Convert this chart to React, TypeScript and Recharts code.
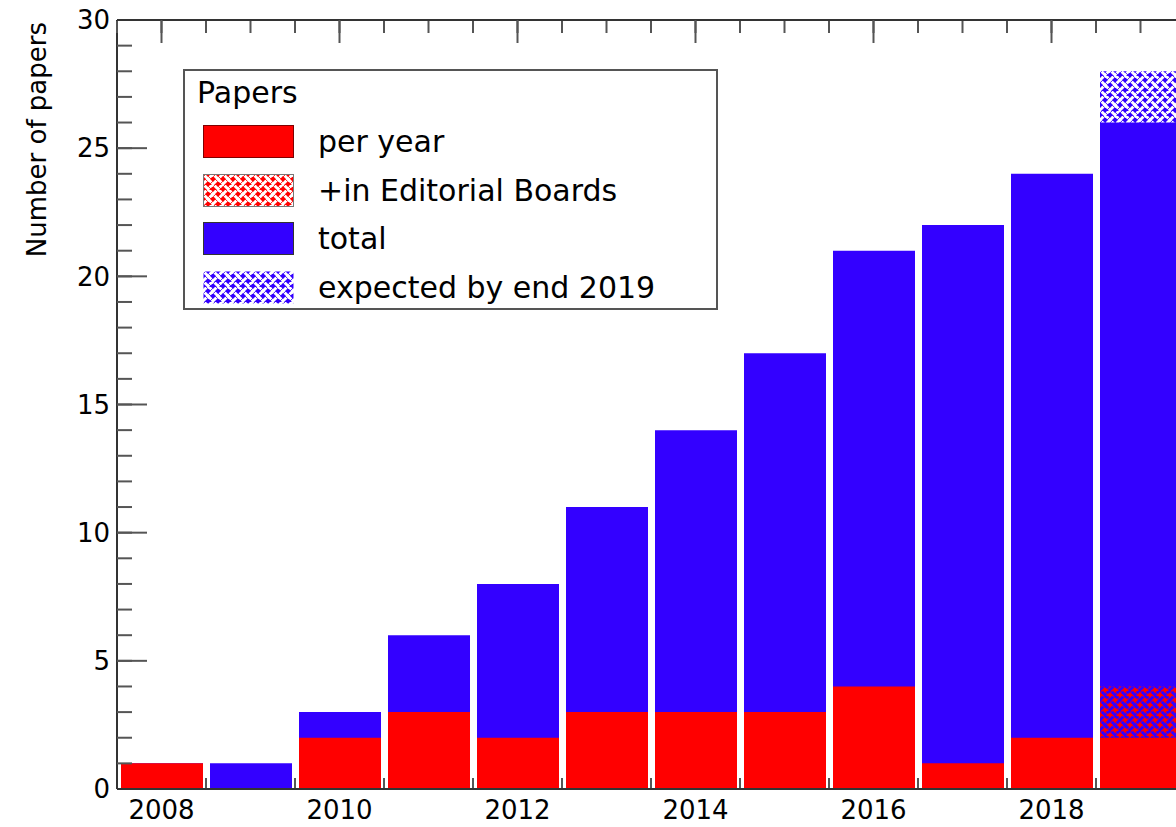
import React from 'react';
import { BarChart, Bar, XAxis, YAxis, Legend } from 'recharts';

const years = ['2008', '2009', '2010', '2011', '2012', '2013', '2014', '2015', '2016', '2017', '2018', '2019'];
const perYear = [1, 0, 2, 3, 2, 3, 3, 3, 4, 1, 2, 2];
const inEditorialBoards = [null, null, null, null, null, null, null, null, null, null, null, 4];
const total = [1, 1, 3, 6, 8, 11, 14, 17, 21, 22, 24, 26];
const expectedByEnd = [null, null, null, null, null, null, null, null, null, null, null, 28];

const yTicks = [0, 5, 10, 15, 20, 25, 30];
const yMinorTicks = [0, 1, 2, 3, 4, 5, 6, 7, 8, 9, 10, 11, 12, 13, 14, 15, 16, 17, 18, 19, 20, 21, 22, 23, 24, 25, 26, 27, 28, 29, 30];
const xLabelTicks = [2008, 2010, 2012, 2014, 2016, 2018];
const xMinorTicks = [2007.5, 2008, 2008.5, 2009, 2009.5, 2010, 2010.5, 2011, 2011.5, 2012, 2012.5, 2013, 2013.5, 2014, 2014.5, 2015, 2015.5, 2016, 2016.5, 2017, 2017.5, 2018, 2018.5, 2019, 2019.5];
// bottom ticks that show between the bars
const xGapTicks = [2008.5, 2009.5, 2010.5, 2011.5, 2012.5, 2013.5, 2014.5, 2015.5, 2016.5, 2017.5, 2018.5];

const data = years.map((year, i) => ({
  year,
  yearNum: Number(year),
  perYear: perYear[i],
  editorial: inEditorialBoards[i],
  total: total[i],
  expected: expectedByEnd[i],
}));

const RED = '#ff0000';
const BLUE = '#3300ff';
const FONT = '"DejaVu Sans", sans-serif';

const legendItems = [
  { label: 'per year', fill: RED, stroke: '#800000' },
  { label: '+in Editorial Boards', fill: 'url(#redWeave)', stroke: '#777' },
  { label: 'total', fill: BLUE, stroke: '#333' },
  { label: 'expected by end 2019', fill: 'url(#blueWeave)', stroke: 'none' },
];

const xDomain = [2007.5, 2019.5];
const axisLine = { stroke: '#333', strokeWidth: 2 };
const tickLine = { stroke: '#555', strokeWidth: 2 };
const tickFont = { fill: '#000', fontSize: 26, fontFamily: FONT };
const NoLabel = () => null;

// basket-weave tile (20x20): strips are cut out of the fill, short edges mark the over/under crossings
function weaveStrips() {
  let d = '';
  for (const c of [0, 10, 20, 30, 40]) d += `M${c + 5},-5 L-5,${c + 5} `;
  for (const m of [-20, -10, 0, 10, 20]) d += `M${m - 5},-5 L${m + 25},25 `;
  return d;
}
function weaveEdges() {
  let d = '';
  const pts = [0, 5, 10, 15, 20];
  for (const x of pts) {
    for (const y of pts) {
      if ((x + y) % 10 !== 0) continue;
      const slashOver = (x / 5) % 2 === 0;
      const o = 1.45;
      const h = 1.4;
      for (const s of [-1, 1]) {
        if (slashOver) {
          const cx = x + s * o;
          const cy = y + s * o;
          d += `M${cx - h},${cy + h} L${cx + h},${cy - h} `;
        } else {
          const cx = x + s * o;
          const cy = y - s * o;
          d += `M${cx - h},${cy - h} L${cx + h},${cy + h} `;
        }
      }
    }
  }
  return d;
}

function PapersLegend() {
  return (
    <div
      style={{
        position: 'relative',
        width: 535,
        height: 241,
        boxSizing: 'border-box',
        border: '2px solid #555',
        background: '#fff',
        fontFamily: FONT,
        fontSize: 30,
        color: '#000',
      }}
    >
      <div style={{ position: 'absolute', left: 12, top: 4, lineHeight: '35px' }}>Papers</div>
      {legendItems.map((item, i) => (
        <div
          key={item.label}
          style={{ position: 'absolute', left: 18, top: 54 + i * 48.5, height: 33, display: 'flex', alignItems: 'center' }}
        >
          <svg width={91} height={33} style={{ display: 'block' }}>
            <rect x={0.5} y={0.5} width={90} height={32} fill={item.fill} stroke={item.stroke} strokeWidth={1} />
          </svg>
          <span style={{ marginLeft: 24, lineHeight: '35px', whiteSpace: 'nowrap' }}>{item.label}</span>
        </div>
      ))}
    </div>
  );
}

function AxisTitle(props: any) {
  const vb = props.viewBox || { x: 0, y: 20 };
  const cx = vb.x + 37;
  const top = vb.y + 2;
  return (
    <text
      x={cx}
      y={top}
      transform={`rotate(-90, ${cx}, ${top})`}
      textAnchor="end"
      dominantBaseline="central"
      fontSize={26}
      fontFamily={FONT}
      fill="#000"
    >
      Number of papers
    </text>
  );
}

export default function App() {
  const strips = weaveStrips();
  const edges = weaveEdges();
  return (
    <div style={{ position: 'fixed', left: 0, top: 0, width: 1176, height: 827, overflow: 'hidden', background: '#fff' }}>
      <BarChart
        width={1200}
        height={827}
        data={data}
        margin={{ top: 20, right: 15, left: 0, bottom: 0 }}
        barSize={82}
      >
        <defs>
          <mask id="weaveHoles" maskUnits="userSpaceOnUse" x="0" y="0" width="20" height="20">
            <rect x="0" y="0" width="20" height="20" fill="#fff" />
            <path d={strips} stroke="#000" strokeWidth="2.9" fill="none" />
            <path d={edges} stroke="#fff" strokeWidth="0.9" fill="none" />
          </mask>
          <pattern id="redWeave" width="20" height="20" patternUnits="userSpaceOnUse">
            <rect x="0" y="0" width="20" height="20" fill={RED} mask="url(#weaveHoles)" />
          </pattern>
          <pattern id="blueWeave" width="20" height="20" patternUnits="userSpaceOnUse">
            <rect x="0" y="0" width="20" height="20" fill={BLUE} mask="url(#weaveHoles)" />
          </pattern>
        </defs>

        <YAxis
          type="number"
          domain={[0, 30]}
          ticks={yTicks}
          interval={0}
          width={117}
          tickSize={-30}
          tickMargin={37}
          axisLine={axisLine}
          tickLine={tickLine}
          tick={tickFont}
          label={{ content: AxisTitle }}
        />
        <YAxis
          yAxisId="yMinor"
          orientation="left"
          mirror
          width={1}
          type="number"
          domain={[0, 30]}
          allowDataOverflow
          ticks={yMinorTicks}
          interval={0}
          tick={NoLabel}
          tickSize={15}
          axisLine={false}
          tickLine={tickLine}
        />

        <XAxis
          xAxisId="topMajor"
          dataKey="yearNum"
          orientation="top"
          mirror
          height={1}
          type="number"
          domain={xDomain}
          allowDataOverflow
          ticks={xLabelTicks}
          interval={0}
          tick={NoLabel}
          tickSize={23}
          axisLine={axisLine}
          tickLine={tickLine}
        />
        <XAxis
          xAxisId="topMinor"
          dataKey="yearNum"
          orientation="top"
          mirror
          height={1}
          type="number"
          domain={xDomain}
          allowDataOverflow
          ticks={xMinorTicks}
          interval={0}
          tick={NoLabel}
          tickSize={12}
          axisLine={false}
          tickLine={tickLine}
        />
        <XAxis
          xAxisId="bottomMinor"
          dataKey="yearNum"
          orientation="bottom"
          mirror
          height={1}
          type="number"
          domain={xDomain}
          allowDataOverflow
          ticks={xGapTicks}
          interval={0}
          tick={NoLabel}
          tickSize={11}
          axisLine={false}
          tickLine={tickLine}
        />
        <XAxis
          xAxisId="bottom"
          dataKey="yearNum"
          orientation="bottom"
          height={38}
          type="number"
          domain={xDomain}
          allowDataOverflow
          ticks={xLabelTicks}
          interval={0}
          tickSize={0}
          tickMargin={12}
          axisLine={axisLine}
          tickLine={false}
          tick={tickFont}
        />

        <XAxis xAxisId="expectedAxis" dataKey="year" hide />
        <XAxis xAxisId="totalAxis" dataKey="year" hide />
        <XAxis xAxisId="editorialAxis" dataKey="year" hide />
        <XAxis xAxisId="perYearAxis" dataKey="year" hide />

        <Bar xAxisId="expectedAxis" dataKey="expected" fill="url(#blueWeave)" isAnimationActive={false} />
        <Bar xAxisId="totalAxis" dataKey="total" fill={BLUE} isAnimationActive={false} />
        <Bar xAxisId="editorialAxis" dataKey="editorial" fill="url(#redWeave)" isAnimationActive={false} />
        <Bar xAxisId="perYearAxis" dataKey="perYear" fill={RED} isAnimationActive={false} />

        <Legend
          layout="vertical"
          align="center"
          verticalAlign="middle"
          wrapperStyle={{ left: 183, top: 69, width: 535, height: 241 }}
          content={() => <PapersLegend />}
        />
      </BarChart>
    </div>
  );
}
